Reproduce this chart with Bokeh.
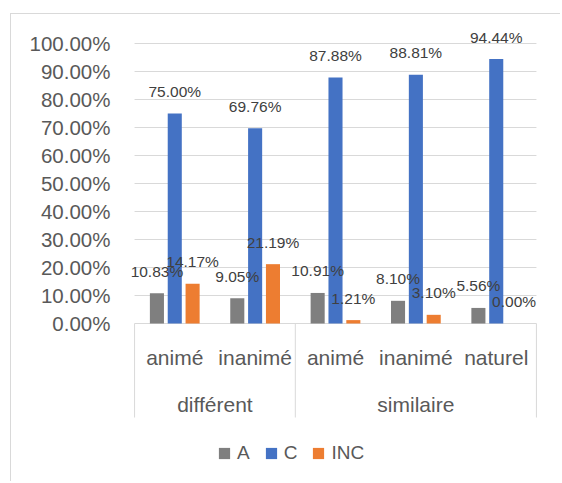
from bokeh.plotting import figure
from bokeh.models import (FactorRange, Range1d, FixedTicker, NumeralTickFormatter,
                          ColumnDataSource, Legend, LegendItem)
from bokeh.transform import dodge
from bokeh.embed import file_html
from bokeh.resources import INLINE
from bokeh.core.properties import value

# ---------------- data ----------------
groups = ["différent", "différent", "similaire", "similaire", "similaire"]
subcats = ["animé", "inanimé", "animé", "inanimé", "naturel"]
series_names = ["A", "C", "INC"]
a_vals = [10.83, 9.05, 10.91, 8.10, 5.56]
c_vals = [75.00, 69.76, 87.88, 88.81, 94.44]
inc_vals = [14.17, 21.19, 1.21, 3.10, 0.00]
y_tick_vals = [0, 10, 20, 30, 40, 50, 60, 70, 80, 90, 100]

# ---------------- style / layout ----------------
FONT = "Liberation Sans"
COLORS = ["#7f7f7f", "#4472c4", "#ed7d31"]
GRID = "#d9d9d9"
W, H = 550, 468
PPU = 280.0                # pixels per 100 %
TOP_PX, BOT_PX = 303, 159  # frame extent above / below the 0 line
AXIS_DEPTH = 94            # px of the category axis block below 0
BAR_W = 0.175
OFFS = [-0.222, 0.0, 0.222]

factors = list(zip(groups, subcats))
uniq_groups = []
for g in groups:
    if g not in uniq_groups:
        uniq_groups.append(g)

x_range = FactorRange(*factors, group_padding=0, subgroup_padding=0,
                      factor_padding=0, range_padding=0.2,
                      range_padding_units="absolute")
y_range = Range1d(-BOT_PX / PPU, TOP_PX / PPU)

p = figure(width=W, height=H, x_range=x_range, y_range=y_range,
           output_backend="svg", toolbar_location=None, x_axis_location=None,
           min_border_left=107, min_border_right=9, min_border_top=6,
           min_border_bottom=0)
p.margin = (14, 0, 0, 11)
p.styles = {"box-shadow": "-1px -1px 0 0 #d9d9d9"}
p.outline_line_color = None
p.background_fill_color = "white"
p.border_fill_color = "white"

# y axis
ticks = [v / 100 for v in y_tick_vals]
p.yaxis.ticker = FixedTicker(ticks=ticks)
p.yaxis.formatter = NumeralTickFormatter(format="0.00%")
p.yaxis.axis_line_color = None
p.yaxis.major_tick_line_color = None
p.yaxis.minor_tick_line_color = None
p.yaxis.major_tick_out = 0
p.yaxis.major_tick_in = 0
p.yaxis.major_label_standoff = 8
p.yaxis.major_label_text_font = FONT
p.yaxis.major_label_text_font_size = "20.5px"
p.yaxis.major_label_text_color = "#595959"
p.ygrid.grid_line_color = None
p.xgrid.grid_line_color = None

# group boundaries (synthetic positions derived from the factor list)
bounds = [0]
for g in uniq_groups:
    bounds.append(bounds[-1] + groups.count(g))

# horizontal gridlines, limited to the category span
p.segment(x0=[bounds[0]] * len(ticks), x1=[bounds[-1]] * len(ticks),
          y0=ticks, y1=ticks, line_color=GRID, line_width=1)

# bars + labels
src = ColumnDataSource(dict(
    cat=factors,
    A=[v / 100 for v in a_vals],
    C=[v / 100 for v in c_vals],
    INC=[v / 100 for v in inc_vals],
    A_lab=[f"{v:.2f}%" for v in a_vals],
    C_lab=[f"{v:.2f}%" for v in c_vals],
    INC_lab=[f"{v:.2f}%" for v in inc_vals],
))

renderers = []
for name, col, off in zip(series_names, COLORS, OFFS):
    r = p.vbar(x=dodge("cat", off, range=p.x_range), top=name, width=BAR_W,
               bottom=0, source=src, fill_color=col, line_color=None)
    renderers.append(r)

for name, off in zip(series_names, OFFS):
    p.text(x=dodge("cat", off, range=p.x_range), y=name, text=name + "_lab",
           source=src, text_align="center", text_baseline="alphabetic",
           y_offset=-22, text_font=value(FONT), text_font_size="15.5px",
           text_color="#404040")

# category axis (two levels, Excel style)
p.text(x=factors, y=[0] * len(factors), text=subcats, text_align="center",
       text_baseline="alphabetic", y_offset=34, text_font=value(FONT),
       text_font_size="21px", text_color="#595959")
p.text(x=uniq_groups, y=[0] * len(uniq_groups), text=uniq_groups,
       text_align="center", text_baseline="alphabetic", y_offset=81,
       text_font=value(FONT), text_font_size="21px", text_color="#595959")

p.segment(x0=bounds, x1=bounds, y0=[0] * len(bounds),
          y1=[-AXIS_DEPTH / PPU] * len(bounds), line_color=GRID,
          line_width=1)

# legend
legend = Legend(items=[LegendItem(label=n, renderers=[r])
                       for n, r in zip(series_names, renderers)],
                orientation="horizontal", location=(99, 18),
                glyph_width=14, glyph_height=14, label_height=14,
                label_width=1, label_standoff=6, spacing=14, padding=0,
                margin=0, label_text_font=FONT, label_text_font_size="19px",
                label_text_color="#595959", border_line_color=None,
                background_fill_alpha=0)
p.add_layout(legend, "center")

open("out.html", "w").write(file_html(p, INLINE))
